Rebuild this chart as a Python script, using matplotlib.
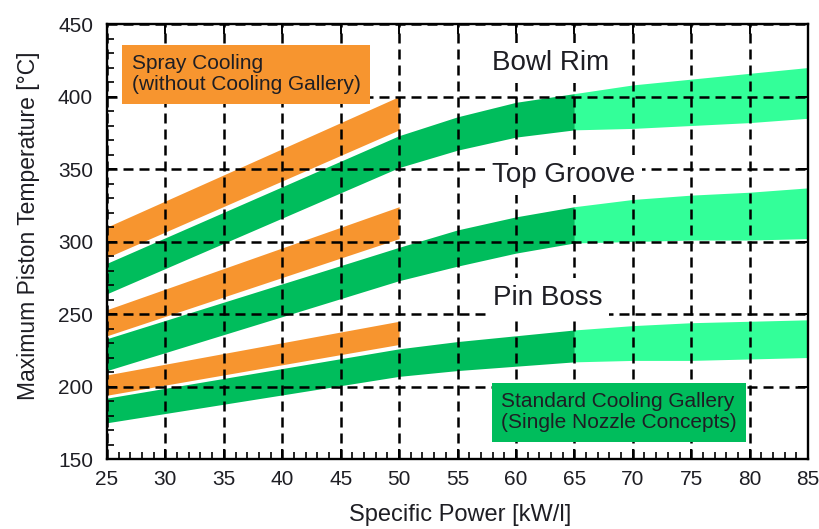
import matplotlib
matplotlib.use("Agg")
import matplotlib.pyplot as plt
from matplotlib.ticker import MultipleLocator

plt.rcParams['font.family'] = ['Liberation Sans', 'DejaVu Sans']

# specific power [kW/l]
x_spray = [25, 50]
x_std = [25, 50, 55, 60, 65]
x_ext = [65, 70, 75, 80, 85]

# spray cooling bands (lower / upper edge)
bowl_spray_lo = [289, 377]
bowl_spray_hi = [310, 400]
groove_spray_lo = [235, 302]
groove_spray_hi = [253, 324]
boss_spray_lo = [194, 229]
boss_spray_hi = [208, 245]

# standard cooling gallery bands
bowl_std_lo = [264, 351, 363, 372, 377]
bowl_std_hi = [285, 373, 386, 396, 402]
groove_std_lo = [211, 273, 283, 292, 299]
groove_std_hi = [233, 296, 308, 317, 324]
boss_std_lo = [175, 207, 211, 214, 217]
boss_std_hi = [192, 226, 231, 235, 239]

# extension above 65 kW/l
bowl_ext_lo = [377, 378, 380, 382, 385]
bowl_ext_hi = [402, 408, 412, 416, 420]
groove_ext_lo = [299, 300, 301, 301, 302]
groove_ext_hi = [324, 329, 332, 334, 337]
boss_ext_lo = [217, 218, 218, 219, 220]
boss_ext_hi = [239, 242, 244, 245, 246]

orange = '#f7952f'
green = '#00bd5c'
light_green = '#33ff99'
txt = '#1e1e24'

fig = plt.figure(figsize=(8.2, 5.29), dpi=100)
ax = fig.add_axes([0.1305, 0.1323, 0.8549, 0.8223])

for lo, hi in [(bowl_spray_lo, bowl_spray_hi), (groove_spray_lo, groove_spray_hi),
               (boss_spray_lo, boss_spray_hi)]:
    ax.fill_between(x_spray, lo, hi, color=orange, lw=0, zorder=1)
for lo, hi in [(bowl_std_lo, bowl_std_hi), (groove_std_lo, groove_std_hi),
               (boss_std_lo, boss_std_hi)]:
    ax.fill_between(x_std, lo, hi, color=green, lw=0, zorder=1)
for lo, hi in [(bowl_ext_lo, bowl_ext_hi), (groove_ext_lo, groove_ext_hi),
               (boss_ext_lo, boss_ext_hi)]:
    ax.fill_between(x_ext, lo, hi, color=light_green, lw=0, zorder=1)

ax.set_xlim(25, 85)
ax.set_ylim(150, 450)
ax.xaxis.set_major_locator(MultipleLocator(5))
ax.xaxis.set_minor_locator(MultipleLocator(1))
ax.yaxis.set_major_locator(MultipleLocator(50))
ax.yaxis.set_minor_locator(MultipleLocator(10))

# dashed grid drawn on top of the bands
ax.set_axisbelow(False)
ax.grid(True, which='major', color='black', linestyle=(0, (4, 2.4)), linewidth=1.8)

ax.tick_params(which='major', direction='in', length=7, width=1.4, top=True, right=True,
               labelsize=15, labelcolor=txt)
ax.tick_params(which='minor', direction='in', length=5, width=1.2, top=False, right=False)
ax.tick_params(axis='x', which='major', pad=8)
ax.tick_params(axis='y', which='major', pad=10)
for s in ax.spines.values():
    s.set_linewidth(1.7)

ax.set_xlabel('Specific Power [kW/l]', fontsize=17, color=txt)
ax.set_ylabel('Maximum Piston Temperature [°C]', fontsize=16.5, color=txt)
ax.xaxis.set_label_coords(0.5036, -0.103)
ax.yaxis.set_label_coords(-0.096, 0.536)

box_kw = dict(fontsize=15, color=txt, ha='center', va='center', multialignment='left',
              zorder=4, linespacing=1.15)
ax.text(36.9, 415.5, 'Spray Cooling\n(without Cooling Gallery)',
        bbox=dict(boxstyle='square,pad=0.45', fc=orange, ec='none'), **box_kw)
ax.text(68.8, 182.4, 'Standard Cooling Gallery\n(Single Nozzle Concepts)',
        bbox=dict(boxstyle='square,pad=0.45', fc=green, ec='none'), **box_kw)

lab_kw = dict(fontsize=20, color=txt, ha='left', va='center', zorder=4,
              bbox=dict(boxstyle='square,pad=0.25', fc='white', ec='none'))
ax.text(57.95, 423, 'Bowl Rim', **lab_kw)
ax.text(57.95, 346, 'Top Groove', **lab_kw)
ax.text(58.0, 261, 'Pin Boss', **lab_kw)

fig.savefig('out.png', dpi=100)
